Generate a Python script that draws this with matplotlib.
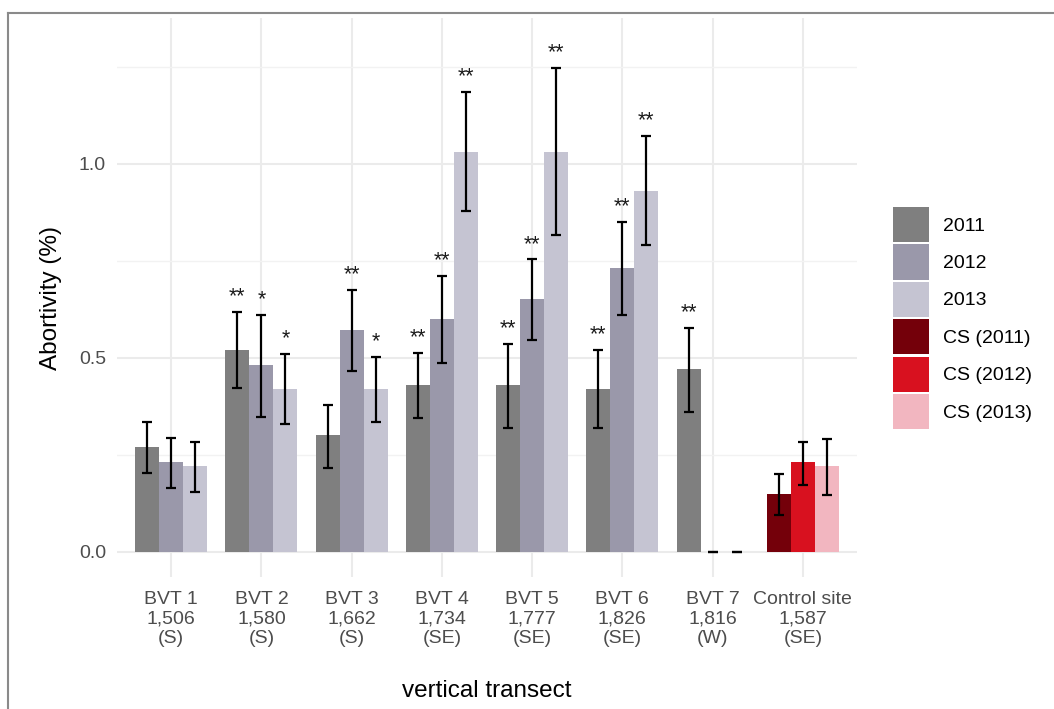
import matplotlib
matplotlib.use("Agg")
import matplotlib.pyplot as plt
from matplotlib.patches import Patch
from matplotlib.lines import Line2D
import numpy as np

plt.rcParams['font.family'] = ['Liberation Sans', 'DejaVu Sans']

# sites (x categories)
sites = ["BVT 1\n1,506\n(S)", "BVT 2\n1,580\n(S)", "BVT 3\n1,662\n(S)", "BVT 4\n1,734\n(SE)",
         "BVT 5\n1,777\n(SE)", "BVT 6\n1,826\n(SE)", "BVT 7\n1,816\n(W)", "Control site\n1,587\n(SE)"]

# abortivity (%) per year, last entry = control site
mean_2011 = [0.27, 0.52, 0.30, 0.43, 0.43, 0.42, 0.47, 0.15]
mean_2012 = [0.23, 0.48, 0.57, 0.60, 0.65, 0.73, 0.00, 0.23]
mean_2013 = [0.22, 0.42, 0.42, 1.03, 1.03, 0.93, 0.00, 0.22]

low_2011 = [0.204, 0.423, 0.217, 0.345, 0.320, 0.319, 0.360, 0.095]
up_2011 = [0.333, 0.618, 0.379, 0.512, 0.536, 0.519, 0.576, 0.201]
low_2012 = [0.163, 0.348, 0.465, 0.486, 0.546, 0.611, 0.00, 0.173]
up_2012 = [0.293, 0.611, 0.675, 0.711, 0.753, 0.850, 0.00, 0.283]
low_2013 = [0.155, 0.329, 0.335, 0.877, 0.815, 0.791, 0.00, 0.147]
up_2013 = [0.283, 0.510, 0.503, 1.184, 1.247, 1.070, 0.00, 0.291]

sig_2011 = ["", "**", "", "**", "**", "**", "**", ""]
sig_2012 = ["", "*", "**", "**", "**", "**", "", ""]
sig_2013 = ["", "*", "*", "**", "**", "**", "", ""]

legend_labels = ["2011", "2012", "2013", "CS (2011)", "CS (2012)", "CS (2013)"]
colors_bvt = ["#7f7f7f", "#9a98aa", "#c5c4d2"]
colors_cs = ["#74000a", "#d8111f", "#f2b6c0"]

fig = plt.figure(figsize=(10.54, 7.09), dpi=100)
ax = fig.add_axes([117/1054, 1 - 577/709, (857 - 117)/1054, (577 - 18)/709])

x = np.arange(1, len(sites) + 1)
w = 0.8 / 3
series = [(mean_2011, low_2011, up_2011, sig_2011),
          (mean_2012, low_2012, up_2012, sig_2012),
          (mean_2013, low_2013, up_2013, sig_2013)]

for k, (m, lo, up, sig) in enumerate(series):
    m = np.array(m); lo = np.array(lo); up = np.array(up)
    xs = x + (k - 1) * w
    cols = [colors_bvt[k]] * (len(sites) - 1) + [colors_cs[k]]
    ax.bar(xs, m, width=w, color=cols, zorder=2)
    ax.errorbar(xs, m, yerr=[m - lo, up - m], fmt='none', ecolor='black',
                elinewidth=1.6, capsize=3.5, capthick=1.6, zorder=3)
    for xi, u, s in zip(xs, up, sig):
        if s:
            ax.annotate(s, (xi, u), xytext=(0, 7), textcoords='offset points',
                        ha='center', va='baseline', fontsize=15.5, color='#1a1a1a', zorder=4)

ax.set_xlim(0.4, 8.6)
ax.set_ylim(-0.065, 1.375)
ax.set_xticks(x)
ax.set_xticklabels(sites, linespacing=1.2)
ax.set_yticks([0.0, 0.5, 1.0])
ax.set_yticklabels(["0.0", "0.5", "1.0"])
ax.set_yticks([0.25, 0.75, 1.25], minor=True)

ax.grid(True, which='major', color='#ebebeb', linewidth=1.5, zorder=0)
ax.grid(True, which='minor', axis='y', color='#f2f2f2', linewidth=1.0, zorder=0)
ax.set_axisbelow(True)
for sp in ax.spines.values():
    sp.set_visible(False)
ax.tick_params(axis='both', which='both', length=0, labelsize=14, labelcolor='#4d4d4d')
ax.tick_params(axis='x', pad=10)
ax.tick_params(axis='y', pad=8)

ax.set_xlabel("vertical transect", fontsize=17.5, color='black', labelpad=24)
ax.set_ylabel("Abortivity (%)", fontsize=17.5, color='black', labelpad=12)

handles = [Patch(facecolor=c, edgecolor='none') for c in colors_bvt + colors_cs]
fig.legend(handles, legend_labels, loc='upper left', bbox_to_anchor=(893/1054, 1 - 207/709),
           frameon=False, fontsize=14, handlelength=1.85, handleheight=2.4,
           labelspacing=0.12, handletextpad=0.7, borderpad=0, borderaxespad=0)

# thin frame around the figure (top and left edges)
fig.add_artist(Line2D([8/1054, 8/1054], [0, 1 - 13/709], color='#8a8a8a', linewidth=1.5))
fig.add_artist(Line2D([8/1054, 1], [1 - 13/709, 1 - 13/709], color='#8a8a8a', linewidth=1.5))

fig.savefig("out.png", dpi=100)
